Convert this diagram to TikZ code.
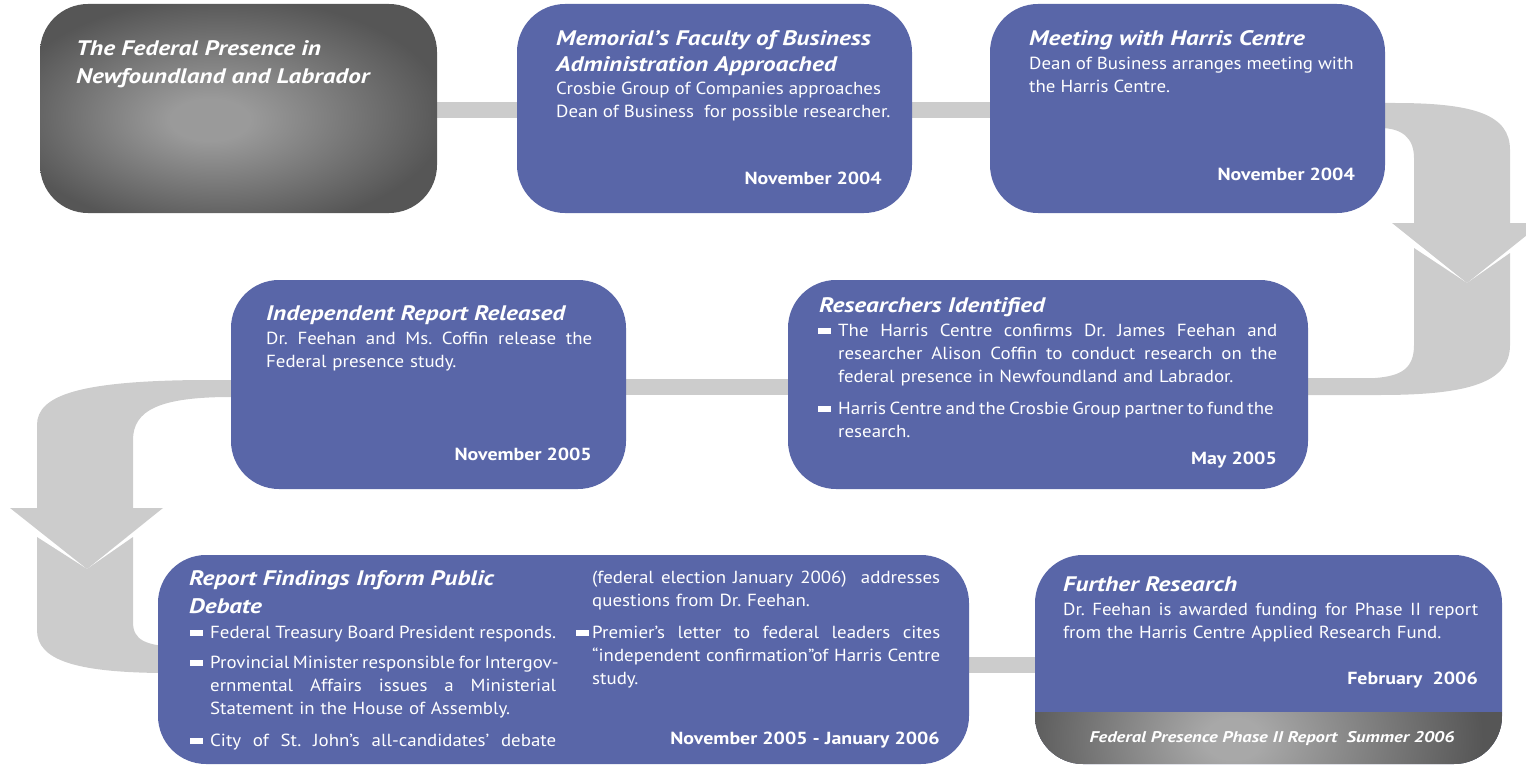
\documentclass[tikz,border=0pt]{standalone}
\usepackage{fontspec}
\setmainfont{PT Sans}[UprightFeatures={FakeStretch=1.08},BoldFeatures={FakeStretch=1.14},BoldItalicFeatures={FakeStretch=1.2}]
\usetikzlibrary{backgrounds}
\frenchspacing
\definecolor{boxblue}{RGB}{89,102,168}
\definecolor{bandgrey}{RGB}{204,204,204}
\definecolor{darkgrey}{RGB}{86,86,86}
\definecolor{lightgrey}{RGB}{154,154,154}
\definecolor{paleglow}{RGB}{168,168,168}
\pgfdeclareradialshading{glow}{\pgfpoint{-4bp}{-3bp}}{color(0bp)=(lightgrey); color(5bp)=(lightgrey); color(28bp)=(darkgrey); color(50bp)=(darkgrey)}
\pgfdeclareradialshading{stripglow}{\pgfpoint{-4bp}{0bp}}{color(0bp)=(paleglow); color(3bp)=(paleglow); color(25bp)=(darkgrey); color(50bp)=(darkgrey)}
\newcommand{\bul}{\makebox[20pt][l]{\rule[3pt]{13pt}{6pt}}}
\newcommand{\bulb}{\makebox[16pt][l]{\rule[3pt]{13pt}{6pt}}}
\newcommand{\jl}[2]{\makebox[#1][s]{\spaceskip=\fontdimen2\font plus 1fil minus .3\fontdimen2\font\relax#2}}
\tikzset{
  card/.style={rounded corners=48pt, minimum width=395pt, minimum height=209pt, inner sep=0pt},
  box/.style={card, fill=boxblue},
  greybox/.style={card, shade, shading=glow},
  band/.style={fill=bandgrey},
  bar/.style={draw=bandgrey, line width=16pt},
  hd/.style={anchor=north west, inner sep=0pt, text=white, align=left, font=\fontsize{21}{26}\selectfont\bfseries\itshape},
  txt/.style={anchor=north west, inner sep=0pt, text=white, align=left, font=\fontsize{17.5}{23}\selectfont},
  dt/.style={anchor=base east, inner sep=0pt, text=white, font=\fontsize{17.5}{23}\selectfont\bfseries}
}
\begin{document}
\begin{tikzpicture}[x=1pt,y=-1pt]
\clip (0,0) rectangle (1526,765);
\node[greybox, minimum width=397pt] (A) at (238.5,108.5) {};
\node[box] (B) at (714.5,108.5) {};
\node[box] (C) at (1187.5,108.5) {};
\node[box] (D) at (428.5,384.5) {};
\node[box, minimum width=520pt] (E) at (1048,384.5) {};
\node[box, minimum width=811pt] (F) at (563.5,659.5) {};
\node[box, minimum width=467pt, path picture={
    \clip[sharp corners] (path picture bounding box.south west) rectangle ([yshift=52pt]path picture bounding box.south east);
    \fill[darkgrey, sharp corners] (path picture bounding box.south west) rectangle ([yshift=52pt]path picture bounding box.south east);
    \shade[shading=stripglow, sharp corners] ([yshift=-150pt]path picture bounding box.south west) rectangle ([yshift=200pt]path picture bounding box.south east);}] (G) at (1268.5,659.5) {};

\node[hd, font=\fontsize{21}{28}\selectfont\bfseries\itshape] (Ah) at (76,40) {The Federal Presence in\\Newfoundland and Labrador};
\node[hd] (Bh) at (556,30) {Memorial’s Faculty of Business\\Administration Approached};
\node[txt] (Bt) at (556,82) {Crosbie Group of Companies approaches\\Dean of Business\ \ for possible researcher.};
\node[dt] (Bd) at (882,184) {November 2004};
\node[hd] (Ch) at (1029,30) {Meeting with Harris Centre};
\node[txt] (Ct) at (1029,57) {Dean of Business arranges meeting with\\the Harris Centre.};
\node[dt] (Cd) at (1355,180) {November 2004};
\node[hd] (Dh) at (266,305) {Independent Report Released};
\node[txt, text width=326pt] (Dt) at (266,332) {\jl{326pt}{Dr. Feehan and Ms. Coffin release the}\\Federal presence study.};
\node[dt] (Dd) at (592,460) {November 2005};
\node[hd] (Eh) at (819,297) {Researchers Identified};
\node[txt, text width=459pt] (Et) at (818,324) {\jl{459pt}{\bul The Harris Centre confirms Dr. James Feehan and}\\
  \hspace*{20pt}\jl{439pt}{researcher Alison Coffin to conduct research on the}\\
  \hspace*{20pt}federal presence in Newfoundland and Labrador.\\[9pt]
  \jl{455pt}{\bul Harris Centre and the Crosbie Group partner to fund the}\\
  \hspace*{20pt}research.};
\node[dt] (Ed) at (1277,464) {May 2005};
\node[hd, font=\fontsize{21}{28}\selectfont\bfseries\itshape] (Fh) at (189,570) {Report Findings Inform Public\\Debate};
\node[txt, text width=366pt] (F1) at (190,626) {\jl{366pt}{\bul Federal Treasury Board President responds.}\\[7pt]
  \jl{366pt}{\bul Provincial Minister responsible for Intergov-}\\
  \hspace*{20pt}\jl{346pt}{ernmental Affairs issues a Ministerial}\\
  \hspace*{20pt}Statement in the House of Assembly.\\[9pt]
  \jl{366pt}{\bul City of St. John’s all-candidates’ debate}};
\node[txt, text width=364pt] (F2) at (576,571) {\hspace*{16pt}\jl{348pt}{(federal election January 2006)\ \ addresses}\\
  \hspace*{16pt}questions from Dr. Feehan.\\[9pt]
  \jl{364pt}{\bulb Premier’s letter to federal leaders cites}\\
  \hspace*{16pt}\jl{348pt}{“independent confirmation”of Harris Centre}\\
  \hspace*{16pt}study.};
\node[dt] (Fd) at (940,744) {November 2005 - January 2006};
\node[hd] (Gh) at (1063,576) {Further Research};
\node[txt, text width=415pt] (Gt) at (1063,603) {\jl{415pt}{Dr. Feehan is awarded funding for Phase II report}\\from the Harris Centre Applied Research Fund.};
\node[dt] (Gd) at (1478,684) {February\ \ 2006};
\node[anchor=base, inner sep=0pt, text=white, font=\fontsize{15.5}{18}\selectfont\bfseries\itshape] (Gn) at (1272,742) {Federal Presence Phase II Report\ \ Summer 2006};

\begin{pgfonlayer}{background}
\draw[bar] ([yshift=-1.5pt]A.east) -- ([yshift=-1.5pt]B.west);
\draw[bar] ([yshift=-1.5pt]B.east) -- ([yshift=-1.5pt]C.west);
\draw[bar] ([yshift=-2pt]D.east) -- ([yshift=-2pt]E.west);
\draw[bar] ([yshift=-5.5pt]F.east) -- ([yshift=-5.5pt]G.west);
\fill[band] (1350,103) -- (1395,103) .. controls (1475,103) and (1510,115) .. (1510,150) -- (1510,223) -- (1414,223) -- (1414,158) .. controls (1414,138) and (1402,128) .. (1380,128) -- (1350,128) -- cycle;
\fill[band] (1392,223) -- (1542,223) -- (1467,283) -- cycle;
\fill[band] (1414,248) -- (1467,283) -- (1510,253) -- (1510,345) .. controls (1510,382) and (1470,395) .. (1380,395) -- (1290,395) -- (1290,378) -- (1375,378) .. controls (1402,376) and (1414,368) .. (1414,345) -- cycle;
\fill[band] (250,380) -- (200,380) .. controls (80,381) and (37,395) .. (37,425) -- (37,508) -- (133,508) -- (133,440) .. controls (133,410) and (160,397) .. (231,397) -- (250,397) -- cycle;
\fill[band] (10,508) -- (163,508) -- (87,569) -- cycle;
\fill[band] (37,537) -- (87,569) -- (133,537) -- (133,622) .. controls (133,640) and (145,646) .. (180,647) -- (180,673) -- (160,673) .. controls (75,672) and (37,660) .. (37,630) -- cycle;
\end{pgfonlayer}
\end{tikzpicture}
\end{document}
